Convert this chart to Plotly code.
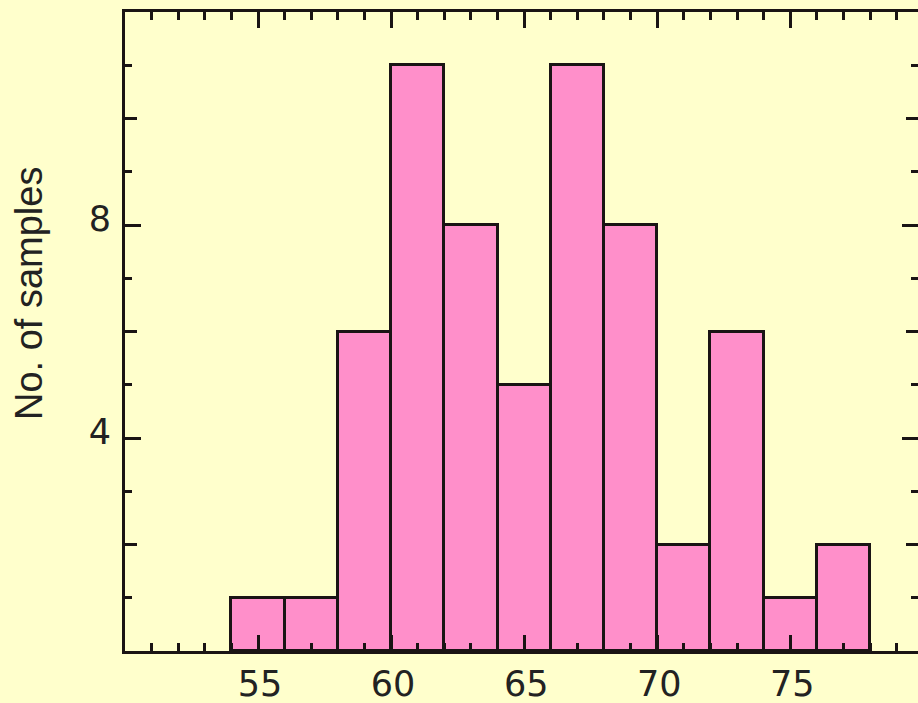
import plotly.graph_objects as go

# Histogram of sample values, bins of width 2
bin_left = [54, 56, 58, 60, 62, 64, 66, 68, 70, 72, 74, 76]
counts = [1, 1, 6, 11, 8, 5, 11, 8, 2, 6, 1, 2]
bin_width = 2

x_ticks = [55, 60, 65, 70, 75]
y_label_ticks = [4, 8]
y_mid_ticks = [2, 6, 10]
y_title = "No. of samples"

bg = "#FFFFCC"
bar_fill = "#FF8FCA"
ink = "#1a1414"
title_font = "Liberation Sans, Arial, sans-serif"
tick_font = dict(family="DejaVu Sans, sans-serif", size=35, color="#222222")

centers = [b + bin_width / 2 for b in bin_left]

fig = go.Figure()
fig.add_trace(go.Bar(
    x=centers, y=counts, width=bin_width,
    marker=dict(color=bar_fill, line=dict(color=ink, width=3)),
    showlegend=False, hoverinfo="skip",
))
# empty traces so the extra tick-only axes are drawn
for ya in ["y2", "y3", "y4"]:
    fig.add_trace(go.Scatter(x=[], y=[], yaxis=ya, showlegend=False, hoverinfo="skip"))

yr = [0, 12]
common_y = dict(range=yr, showgrid=False, zeroline=False, ticks="inside",
                tickwidth=3, tickcolor=ink, fixedrange=True)

fig.update_layout(
    width=918, height=703,
    margin=dict(l=125, r=0, t=12, b=52),
    paper_bgcolor=bg, plot_bgcolor=bg,
    bargap=0,
    font=dict(family=title_font, size=35, color="#222222"),
    xaxis=dict(
        range=[50, 79.8], tickvals=x_ticks, ticks="inside", ticklen=16,
        tickwidth=3, tickcolor=ink, showline=True, linewidth=3, linecolor=ink,
        mirror="ticks", showgrid=False, zeroline=False,
        minor=dict(dtick=1, tick0=0, ticks="inside", ticklen=8, tickwidth=3,
                   tickcolor=ink, showgrid=False),
        tickfont=tick_font, ticklabelshift=2,
    ),
    yaxis=dict(
        **common_y, tickvals=y_label_ticks, ticklen=16,
        showline=True, linewidth=3, linecolor=ink, mirror=False,
        minor=dict(dtick=1, tick0=0, ticks="inside", ticklen=7, tickwidth=3,
                   tickcolor=ink, showgrid=False),
        tickfont=tick_font, ticklabelshift=-6, ticklabelstandoff=4,
    ),
    yaxis2=dict(
        **common_y, overlaying="y", side="right", tickvals=y_label_ticks,
        ticklen=16, showline=False, showticklabels=False,
        minor=dict(dtick=1, tick0=0, ticks="inside", ticklen=7, tickwidth=3,
                   tickcolor=ink, showgrid=False),
    ),
    yaxis3=dict(
        **common_y, overlaying="y", side="left", tickvals=y_mid_ticks,
        ticklen=12, showline=False, showticklabels=False,
    ),
    yaxis4=dict(
        **common_y, overlaying="y", side="right", tickvals=y_mid_ticks,
        ticklen=12, showline=False, showticklabels=False,
    ),
    annotations=[dict(
        text=y_title, textangle=-90, xref="paper", yref="paper",
        x=-0.121, y=0.5587, xanchor="center", yanchor="middle",
        showarrow=False, font=dict(size=38, color="#222222", family=title_font),
    )],
)

fig.write_html("out.html")
